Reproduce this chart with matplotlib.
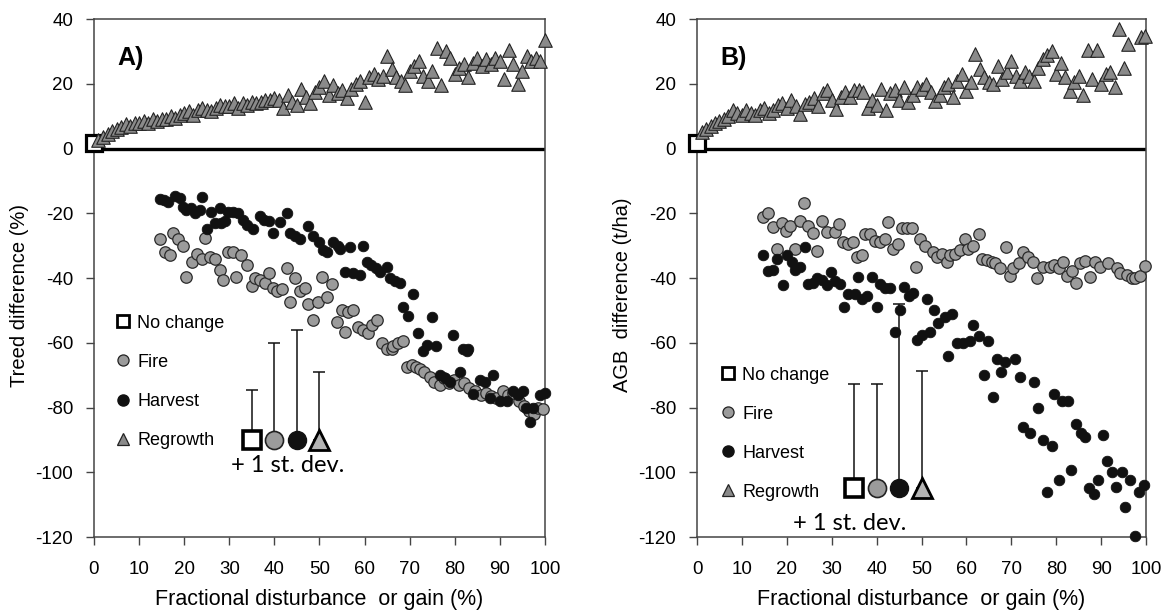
import matplotlib
matplotlib.use('Agg')
from matplotlib import pyplot as plt
from matplotlib.lines import Line2D

plt.rcParams['font.family'] = ['Liberation Sans', 'DejaVu Sans']
plt.rcParams['axes.unicode_minus'] = False

# ---- panel A: treed difference (%) ----
reg_a_x = [1, 2, 3, 4, 5, 6, 7, 8, 9, 10, 11, 12, 13, 14, 15, 16, 17, 18, 19, 20,
           21, 22, 23, 24, 25, 26, 27, 28, 29, 30, 31, 32, 33, 34, 35, 36, 37, 38, 39, 40,
           41, 42, 43, 44, 45, 46, 47, 48, 49, 50, 51, 52, 53, 54, 55, 56, 57, 58, 59, 60,
           61, 62, 63, 64, 65, 66, 67, 68, 69, 70, 71, 72, 73, 74, 75, 76, 77, 78, 79, 80,
           81, 82, 83, 84, 85, 86, 87, 88, 89, 90, 91, 92, 93, 94, 95, 96, 97, 98, 99, 100]
reg_a_y = [2.5, 3.5, 4.5, 5.5, 6, 6.5, 7.5, 7, 8, 8,
           8.5, 8, 9, 8.5, 9, 9, 10, 9.5, 10.5, 11,
           11.5, 10.5, 12, 12.5, 12, 11.5, 12.5, 13.5, 13, 13,
           14, 12.5, 14, 13.5, 14.5, 14, 14.5, 15, 15, 15.5,
           15, 12.5, 16.5, 14.5, 13.5, 18.5, 16, 14, 17.5, 19,
           21, 16.5, 19.5, 17, 18, 15.5, 18.5, 20, 21, 14.5,
           22, 23, 21.5, 22.5, 28.5, 24.5, 22, 21, 19.5, 24,
           25.5, 27, 22.5, 21, 24, 31, 19.5, 30, 28, 23,
           25, 26, 22, 26.5, 28, 25.5, 27.5, 26, 28, 27,
           21.5, 30.5, 26, 20, 24, 28.5, 27, 28, 27, 33.5]

fire_a_x = [14.6, 15.7, 16.9, 17.6, 18.7, 19.8, 20.5, 21.7, 22.8, 23.9, 24.6, 25.7, 26.8,
            27.9, 28.7, 29.8, 30.9, 31.6, 32.7, 33.9, 35, 35.7, 36.8, 37.9, 38.7, 39.8,
            40.6, 41.6, 42.7, 43.5, 44.6, 45.7, 46.8, 47.5, 48.6, 49.7, 50.5, 51.6, 52.7,
            53.8, 54.9, 55.7, 56.4, 57.5, 58.6, 59.7, 60.8, 61.6, 62.7, 63.8, 64.9, 66,
            66.4, 67.5, 68.6, 69.3, 70.5, 71.5, 72.3, 73.2, 74.5, 75.5, 76.7, 77.6, 78.7,
            79.8, 80.9, 82, 83.2, 84.5, 85.8, 86.9, 88, 89.2, 90.7, 91.8, 93, 94.3, 95.3,
            96.5, 97.5, 98.4, 99.6]
fire_a_y = [-28, -32, -33, -26, -28, -30, -39.7, -35, -32.5, -34, -27.5, -33.5, -34,
            -37.5, -40.5, -32, -32, -39.7, -33, -36, -42.6, -40, -40.5, -41.5, -38.6, -43,
            -44, -43.5, -37, -47.5, -40, -44, -43, -48, -53, -47.5, -39.7, -46, -42,
            -53.5, -50, -56.7, -50.5, -50, -55, -56, -57, -54.5, -53, -60, -62, -62,
            -61, -60, -59.5, -67.5, -67, -67.5, -68, -69, -70.5, -72, -73, -71, -72.5,
            -71.5, -73, -72.5, -74, -75, -76, -75.5, -76.5, -77, -75, -76, -75.5, -78, -79.5,
            -81, -82, -80, -80.5]

harv_a_x = [14.6, 15.5, 16.5, 18, 19.1, 19.8, 20.5, 21.5, 22.5, 23.5, 23.9, 25, 26, 26.8,
            28, 28.2, 29, 29.8, 30.8, 32, 33, 34, 35.3, 36.8, 37.8, 38.8, 39.8, 41.2, 42.7,
            43.5, 44.5, 45.7, 47.5, 48.6, 49.8, 50.8, 51.6, 53, 54, 54.5, 55.7, 56.8, 57.5,
            59, 59.7, 60.5, 61.5, 62.5, 63.5, 64.9, 65.6, 66.8, 67.9, 68.6, 69.7, 70.8, 71.9,
            73, 73.8, 74.9, 75.9, 76.7, 77.8, 78.9, 79.7, 81.2, 81.9, 82.6, 83, 84.1, 85.6,
            86.7, 87.8, 88.5, 90, 91.5, 93, 94, 95.2, 95.9, 96.7, 97.4, 98.9, 100]
harv_a_y = [-15.5, -16, -16.5, -14.8, -15.3, -18, -19, -18.5, -20, -19, -15, -24.8, -19.5, -23,
            -18.5, -23, -22.5, -19.5, -19.5, -20, -22, -23.5, -25, -21, -22, -22.5, -26, -22.6, -20,
            -26, -27, -28, -24, -27, -29, -31.5, -32, -29, -30, -31, -38, -30.5, -38.5,
            -39, -30, -35, -36, -37, -38, -36.5, -40, -41, -41.5, -49, -51.6, -44.9, -57,
            -62.6, -60.8, -52, -61, -70, -71, -72, -57.7, -69, -62, -62.5, -62, -75.7, -71.5,
            -72, -77, -70, -78, -78, -75, -76, -75, -80, -84.5, -80, -76, -75.5]

# ---- panel B: AGB difference (t/ha) ----
reg_b_x = [1, 2, 3, 4, 5, 6, 7, 8, 9, 10, 11, 12, 13, 14, 15, 16, 17, 18, 19, 20,
           21, 22, 23, 24, 25, 26, 27, 28, 29, 30, 31, 32, 33, 34, 35, 36, 37, 38, 39, 40,
           41, 42, 43, 44, 45, 46, 47, 48, 49, 50, 51, 52, 53, 54, 55, 56, 57, 58, 59, 60,
           61, 62, 63, 64, 65, 66, 67, 68, 69, 70, 71, 72, 73, 74, 75, 76, 77, 78, 79, 80,
           81, 82, 83, 84, 85, 86, 87, 88, 89, 90, 91, 92, 93, 94, 95, 96, 98.8, 99.8]
reg_b_y = [5, 6, 7, 8, 8.5, 9, 10, 12, 11, 10.5,
           12, 11, 10.5, 12, 12.5, 11, 12, 13.5, 14, 12.5,
           15, 13, 10.8, 13.8, 14.5, 15.5, 13, 17, 18, 15,
           12.2, 16, 17.5, 16, 18, 18, 17.5, 12.5, 15, 13.5,
           18.5, 12, 17, 18, 15, 19, 14.5, 16.5, 19, 18.5,
           20, 17.5, 14.8, 16.5, 19, 20, 16, 21, 23, 17.9,
           20.5, 29.2, 24.5, 22, 20.5, 20, 25.6, 21.5, 23.5, 27,
           22.5, 21, 23.5, 22.5, 21, 25, 27.5, 29, 30, 23,
           26.5, 22, 17.9, 20.5, 22.5, 16.5, 30.3, 21.5, 30.3, 19.9,
           23, 23.5, 18.9, 37, 25, 32.3, 34.4, 34.6]

fire_b_x = [14.8, 15.9, 17, 17.7, 18.9, 19.8, 20.7, 21.8, 22.9, 23.8, 24.8, 25.9, 26.7, 27.8,
            28.9, 30.7, 31.7, 32.6, 33.7, 34.8, 35.6, 36.7, 37.4, 38.5, 39.6, 40.8, 41.9, 42.6,
            43.7, 44.8, 45.6, 46.7, 47.8, 48.8, 49.7, 50.8, 52.6, 53.4, 54.5, 55.6, 56.3, 57.5,
            58.6, 59.7, 60.4, 61.5, 62.7, 63.4, 64.5, 65.6, 66.4, 67.5, 68.8, 69.7, 70.4, 71.6,
            72.7, 73.8, 74.9, 75.7, 77.1, 78.6, 79.4, 80.5, 81.6, 82.3, 83.4, 84.4, 85.3, 86.4,
            87.5, 88.6, 89.8, 91.6, 93.5, 94.2, 95.7, 96.8, 97.6, 98.7, 99.8]
fire_b_y = [-21.2, -20, -24.3, -31, -23, -25.5, -24, -31, -22.5, -16.9, -23.8, -26, -31.8, -22.5,
            -25.7, -25.7, -23.4, -29, -29.5, -29, -33.6, -33, -26.3, -26.3, -28.7, -29, -28, -22.7,
            -31, -29.5, -24.5, -24.5, -24.5, -36.6, -28, -30, -32, -33.5, -32.5, -35, -33, -32.5,
            -31.5, -27.9, -31, -30, -26.3, -34, -34.5, -35, -35.5, -37, -30.3, -39.5, -37, -35.5,
            -32, -33.5, -35, -40, -36.5, -36.5, -36, -37, -35, -39.3, -37.7, -41.6, -35.5, -34.6,
            -39.8, -35, -36.5, -35.5, -37, -38.5, -39, -40, -40, -39.5, -36.4]

harv_b_x = [14.8, 15.9, 17, 17.7, 19.1, 20, 21.1, 21.8, 22.9, 24.1, 24.8, 25.9, 26.7, 27.8,
            28.9, 29.8, 30.7, 31.8, 32.7, 33.7, 35.2, 35.9, 36.7, 37.8, 38.9, 40, 40.8, 41.9,
            43, 44.1, 45.1, 46, 47.1, 48.2, 48.9, 50, 51.2, 51.9, 52.8, 53.7, 55.2, 55.8, 56.7,
            57.8, 59.3, 60.8, 61.5, 62.8, 63.8, 64.9, 66, 66.7, 67.8, 68.6, 70.8, 72, 72.7,
            74.2, 75, 76, 77.1, 77.9, 79, 79.4, 80.5, 81.2, 82.6, 83.3, 84.5, 85.5, 86.5, 87.3,
            88.5, 89.4, 90.5, 91.4, 92.5, 93.3, 94.6, 95.4, 96.5, 97.6, 98.5, 99.5]
harv_b_y = [-33, -37.7, -37.5, -34, -42.3, -33, -35, -37.5, -36.5, -30.5, -42, -41.5, -40, -40.5,
            -42.3, -38, -41, -42, -49, -45, -45, -39.8, -46.5, -45.5, -39.8, -49, -42, -43,
            -43, -56.7, -50, -42.8, -45.5, -44.5, -59, -57.5, -46.5, -56.7, -49.8, -54, -52, -64, -51,
            -60, -60, -59.5, -54.5, -57.8, -70, -59.6, -76.8, -65, -69, -66, -65, -70.5, -86,
            -88, -72, -80, -90, -106, -92, -75.7, -102.5, -78, -78, -99.4, -85, -88, -89, -105,
            -106.7, -102.5, -88.6, -96.4, -100, -104.7, -100, -110.7, -102.5, -119.8, -106, -104]

# ---- "+ 1 st. dev." key (No change, Fire, Harvest, Regrowth) ----
sd_x = [35, 40, 45, 50]
sd_base_a = -90
sd_top_a = [-74.7, -60, -56, -69]
sd_base_b = -105
sd_top_b = [-72.8, -72.8, -48, -68.8]

nochange_x = 0
nochange_y = 1.8

x_ticks = [0, 10, 20, 30, 40, 50, 60, 70, 80, 90, 100]
y_ticks = [40, 20, 0, -20, -40, -60, -80, -100, -120]

FIRE_C = '#9b9b9b'
REG_C = '#8a8a8a'
REG_KEY_C = '#b4b4b4'
HARV_C = '#111111'
SPINE_C = '#444444'


def draw_panel(ax, reg_x, reg_y, fire_x, fire_y, harv_x, harv_y,
               sd_base, sd_top, label, ylabel, leg_xy, sd_text_xy):
    ax.set_xlim(0, 100)
    ax.set_ylim(-120, 40)
    ax.set_xticks(x_ticks)
    ax.set_yticks(y_ticks)
    ax.set_yticklabels([str(v) for v in y_ticks])
    ax.tick_params(axis='y', direction='out', length=6, width=1, color=SPINE_C,
                   labelsize=13.5, pad=9)
    ax.tick_params(axis='x', direction='out', length=6, width=1, color=SPINE_C,
                   labelsize=13.5, pad=11)
    for s in ax.spines.values():
        s.set_color(SPINE_C)
        s.set_linewidth(1.1)

    ax.axhline(0, color='black', lw=2.4, zorder=2)

    ax.plot([nochange_x], [nochange_y], ls='', marker='s', ms=12, mfc='white',
            mec='black', mew=2.3, zorder=3, clip_on=False)
    ax.scatter(reg_x, reg_y, marker='^', s=95, facecolor=REG_C, edgecolor='#222222',
               linewidth=0.8, zorder=4, clip_on=False)
    ax.scatter(fire_x, fire_y, marker='o', s=68, facecolor=FIRE_C, edgecolor='#2a2a2a',
               linewidth=0.9, zorder=4, clip_on=False)
    ax.scatter(harv_x, harv_y, marker='o', s=58, facecolor=HARV_C, edgecolor=HARV_C,
               linewidth=0.6, zorder=5, clip_on=False)

    # standard deviation key
    up = [t - sd_base for t in sd_top]
    ax.errorbar(sd_x, [sd_base] * 4, yerr=[[0] * 4, up], fmt='none', ecolor='#111111',
                elinewidth=1.1, capsize=4, capthick=1.1, zorder=6)
    ax.plot(sd_x[0], sd_base, marker='s', ms=13, mfc='white', mec='black', mew=2.6, zorder=7)
    ax.plot(sd_x[1], sd_base, marker='o', ms=13, mfc=FIRE_C, mec='#222222', mew=1.2, zorder=7)
    ax.plot(sd_x[2], sd_base, marker='o', ms=13, mfc=HARV_C, mec=HARV_C, mew=1, zorder=7)
    ax.plot(sd_x[3], sd_base, marker='^', ms=15, mfc=REG_KEY_C, mec='black', mew=2, zorder=7)
    ax.text(sd_text_xy[0], sd_text_xy[1], '+ 1 st. dev.', ha='center', va='center',
            fontsize=17, family=['Lato', 'DejaVu Sans'])

    handles = [
        Line2D([], [], ls='', marker='s', ms=8, mfc='white', mec='black', mew=2),
        Line2D([], [], ls='', marker='o', ms=8, mfc=FIRE_C, mec='#222222', mew=0.9),
        Line2D([], [], ls='', marker='o', ms=8, mfc=HARV_C, mec=HARV_C),
        Line2D([], [], ls='', marker='^', ms=9, mfc=REG_C, mec='#222222', mew=0.9),
    ]
    ax.legend(handles, ['No change', 'Fire', 'Harvest', 'Regrowth'], loc='upper left',
              bbox_to_anchor=leg_xy, frameon=False, fontsize=13, handlelength=0.6,
              handletextpad=0.5, labelspacing=1.22, borderpad=0, borderaxespad=0)

    ax.text(0.082, 0.925, label, transform=ax.transAxes, ha='center', va='center',
            fontsize=18, fontweight='bold')
    ax.set_ylabel(ylabel, fontsize=14.5)
    ax.yaxis.set_label_coords(-0.144, 0.467)
    ax.set_xlabel('Fractional disturbance  or gain (%)', fontsize=15.5, labelpad=8)


def main():
    fig = plt.figure(figsize=(11.66, 6.15), dpi=100)
    ax_a = fig.add_axes([0.0806, 0.1268, 0.3868, 0.8423])
    ax_b = fig.add_axes([0.5978, 0.1268, 0.3851, 0.8423])

    draw_panel(ax_a, reg_a_x, reg_a_y, fire_a_x, fire_a_y, harv_a_x, harv_a_y,
               sd_base_a, sd_top_a, 'A)', 'Treed difference (%)',
               (0.052, 0.429), (43, -97.8))
    draw_panel(ax_b, reg_b_x, reg_b_y, fire_b_x, fire_b_y, harv_b_x, harv_b_y,
               sd_base_b, sd_top_b, 'B)', 'AGB  difference (t/ha)',
               (0.057, 0.329), (34, -115.7))

    fig.savefig('out.png', dpi=100)


if __name__ == "__main__":
    main()
